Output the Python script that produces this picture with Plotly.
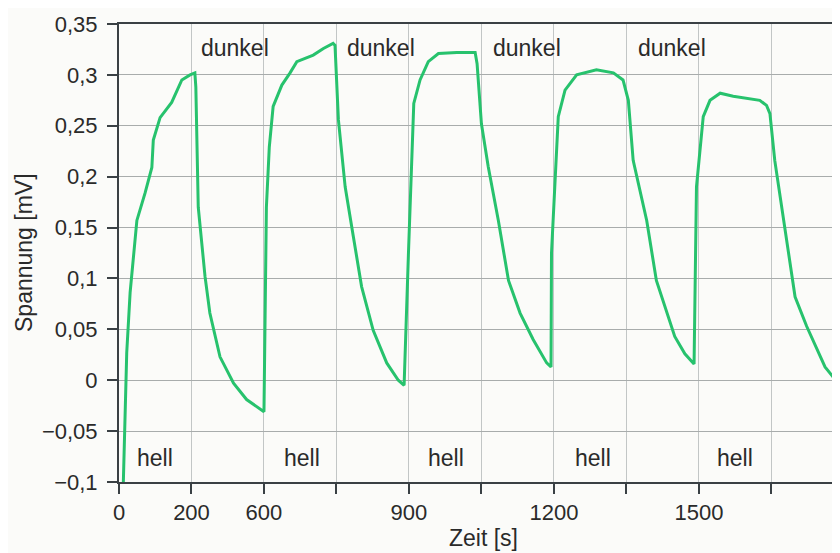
import plotly.graph_objects as go

# Time (axis position units) and voltage [mV]
zeit = [9, 16, 23, 30, 37, 54, 68, 71, 85, 109, 130, 147, 157,
        159, 164, 178, 188, 209, 237, 264, 300,
        305, 311, 319, 337, 354, 368, 402, 423, 443,
        447, 454, 468, 485, 502, 526, 554, 578, 590,
        599, 610, 623, 640, 661, 699, 737,
        741, 750, 764, 785, 806, 830, 857, 885, 894,
        895, 909, 923, 947, 988, 1023, 1043,
        1054, 1064, 1092, 1112, 1130, 1150, 1171, 1190,
        1195, 1202, 1209, 1223, 1244, 1271, 1326, 1340,
        1347, 1357, 1375, 1399, 1423, 1461, 1492, 1510]
spannung = [-0.100, 0.027, 0.086, 0.125, 0.157, 0.184, 0.209, 0.236, 0.258, 0.273, 0.295, 0.300, 0.302,
            0.288, 0.170, 0.102, 0.066, 0.023, -0.003, -0.019, -0.031,
            0.170, 0.229, 0.269, 0.290, 0.302, 0.313, 0.3195, 0.326, 0.331,
            0.329, 0.256, 0.190, 0.141, 0.092, 0.049, 0.017, 0.000, -0.005,
            0.125, 0.272, 0.295, 0.313, 0.321, 0.322, 0.322,
            0.311, 0.252, 0.210, 0.157, 0.098, 0.066, 0.040, 0.017, 0.013,
            0.125, 0.259, 0.285, 0.300, 0.305, 0.302, 0.295,
            0.275, 0.216, 0.157, 0.098, 0.072, 0.043, 0.026, 0.016,
            0.190, 0.223, 0.259, 0.275, 0.282, 0.279, 0.275, 0.270,
            0.262, 0.216, 0.157, 0.082, 0.053, 0.013, -0.005, -0.015]

x_tickvals = [0, 150, 300, 450, 600, 750, 900, 1050, 1200, 1350]
x_ticktext = ["0", "200", "600", "", "900", "", "1200", "", "1500", ""]
y_tickvals = [-0.1, -0.05, 0, 0.05, 0.1, 0.15, 0.2, 0.25, 0.3, 0.35]
y_ticktext = ["\u22120,1", "\u22120,05", "0", "0,05", "0,1", "0,15", "0,2", "0,25", "0,3", "0,35"]

dunkel_x = [240, 542, 844, 1144]
dunkel_y = [0.326, 0.326, 0.326, 0.326]
hell_x = [74, 379, 677, 981, 1275]
hell_y = [-0.0765, -0.0765, -0.0765, -0.0765, -0.0765]

FONT = "Liberation Sans, Arial, Helvetica, sans-serif"
TXT = "#2a2a2a"

fig = go.Figure()
fig.add_trace(go.Scatter(x=zeit, y=spannung, mode="lines",
                         line=dict(color="#27c26d", width=3), cliponaxis=True,
                         showlegend=False))

annotations = []
for x, y in zip(dunkel_x, dunkel_y):
    annotations.append(dict(x=x, y=y, xref="x", yref="y", text="dunkel", showarrow=False,
                            font=dict(family=FONT, size=23, color=TXT)))
for x, y in zip(hell_x, hell_y):
    annotations.append(dict(x=x, y=y, xref="x", yref="y", text="hell", showarrow=False,
                            font=dict(family=FONT, size=23, color=TXT)))
# axis titles
annotations.append(dict(x=0, y=0.5, xref="paper", yref="paper", text="Spannung [mV]",
                        textangle=-90, showarrow=False, xanchor="center", yanchor="middle",
                        xshift=-95, font=dict(family=FONT, size=23, color=TXT)))
annotations.append(dict(x=0.5, y=0, xref="paper", yref="paper", text="Zeit [s]",
                        showarrow=False, xanchor="center", yanchor="middle",
                        xshift=4, yshift=-56, font=dict(family=FONT, size=23, color=TXT)))

# page body has an 8px margin, so figure is shrunk by 8px and margins adjusted
fig.update_layout(
    width=832, height=545,
    margin=dict(l=111, r=0, t=16, b=71),
    paper_bgcolor="#fbfbf9",
    plot_bgcolor="#fbfbf9",
    font=dict(family=FONT, size=20, color=TXT),
    annotations=annotations,
    xaxis=dict(
        range=[0, 1492], tickvals=x_tickvals, ticktext=x_ticktext,
        showgrid=True, gridcolor="#c2c6c6", gridwidth=1,
        showline=True, linecolor="#3a4044", linewidth=2, mirror=True,
        ticks="outside", ticklen=10, tickcolor="#3a4044", tickwidth=1.5,
        tickfont=dict(family=FONT, size=22, color=TXT),
        zeroline=False, automargin=False,
    ),
    yaxis=dict(
        range=[-0.1, 0.35], tickvals=y_tickvals, ticktext=y_ticktext,
        showgrid=True, gridcolor="#a8acac", gridwidth=1,
        showline=True, linecolor="#3a4044", linewidth=2,
        ticks="outside", ticklen=10, tickcolor="#3a4044", tickwidth=1.5,
        tickfont=dict(family=FONT, size=22, color=TXT),
        ticklabelstandoff=5,
        zeroline=False, automargin=False,
    ),
)

fig.write_html("out.html")
